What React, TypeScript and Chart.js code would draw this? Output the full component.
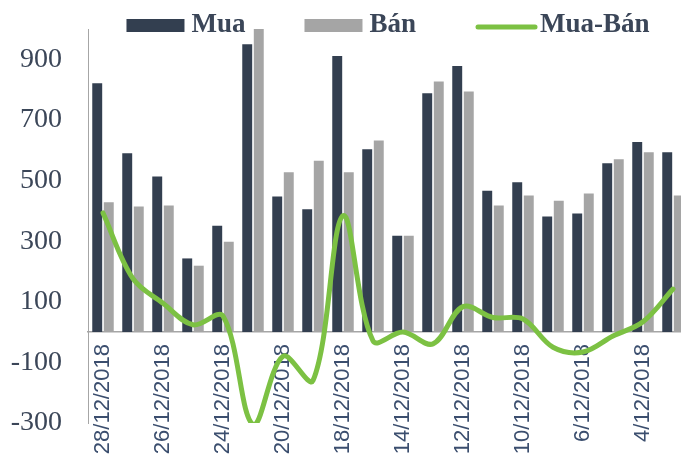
import React, { useEffect, useRef } from "react";
import { Chart, registerables } from "chart.js";

Chart.register(...registerables);

// Trading days, newest first
const DATES = [
  "28/12/2018", "27/12/2018", "26/12/2018", "25/12/2018", "24/12/2018",
  "21/12/2018", "20/12/2018", "19/12/2018", "18/12/2018", "17/12/2018",
  "14/12/2018", "13/12/2018", "12/12/2018", "11/12/2018", "10/12/2018",
  "7/12/2018", "6/12/2018", "5/12/2018", "4/12/2018", "3/12/2018",
];

const MUA = [821, 590, 513, 243, 351, 950, 447, 405, 911, 603, 318, 788, 878, 466, 494, 381, 391, 557, 627, 593];
const BAN = [428, 414, 418, 219, 298, 1255, 527, 565, 527, 632, 318, 827, 794, 418, 451, 433, 457, 570, 593, 451];
const MUA_BAN = [393, 176, 95, 24, 53, -305, -80, -160, 384, -29, 0, -39, 84, 48, 43, -50, -66, -13, 34, 142];

const Y_TICKS = [-300, -100, 100, 300, 500, 700, 900];
const Y_MIN = -300;
const Y_MAX = 1000;

const NAVY = "#333F50";
const GREY = "#A5A5A5";
const GREEN = "#7CC143";
const TEXT = "#3B4658";
const AXIS = "#A6A6A6";

// Legend drawn across the top of the plot, overlapping its upper edge
const topLegend = {
  id: "topLegend",
  afterDraw(chart: any) {
    const { ctx, chartArea } = chart;
    const BOX_W = 58;
    const BOX_H = 13;
    const GAP = 7;
    const ITEM_GAP = 59;
    const baseline = 32;
    const midY = 25.5;
    ctx.save();
    ctx.font = 'bold 27px "Liberation Serif", "Times New Roman", serif';
    const items = chart.data.datasets.map((ds: any) => ({
      label: ds.label as string,
      isLine: ds.type === "line",
      color: ds.type === "line" ? ds.borderColor : ds.backgroundColor,
    }));
    const widths = items.map((it: any) => BOX_W + GAP + ctx.measureText(it.label).width);
    const total = widths.reduce((a: number, b: number) => a + b, 0) + ITEM_GAP * (items.length - 1);
    let x = (chartArea.left + chartArea.right) / 2 - total / 2;
    items.forEach((it: any, i: number) => {
      if (it.isLine) {
        ctx.strokeStyle = it.color;
        ctx.lineWidth = 5;
        ctx.lineCap = "round";
        ctx.beginPath();
        ctx.moveTo(x + 3, midY + 1.5);
        ctx.lineTo(x + BOX_W + 2, midY + 1.5);
        ctx.stroke();
      } else {
        ctx.fillStyle = it.color;
        ctx.fillRect(x, midY - BOX_H / 2, BOX_W, BOX_H);
      }
      ctx.fillStyle = TEXT;
      ctx.textAlign = "left";
      ctx.textBaseline = "alphabetic";
      ctx.fillText(it.label, x + BOX_W + GAP, baseline);
      x += widths[i] + ITEM_GAP;
    });
    ctx.restore();
  },
};

export default function App() {
  const canvasRef = useRef<HTMLCanvasElement | null>(null);

  useEffect(() => {
    if (!canvasRef.current) return;
    const chart = new Chart(canvasRef.current, {
      data: {
        labels: DATES,
        datasets: [
          {
            type: "bar",
            label: "Mua",
            data: MUA,
            backgroundColor: NAVY,
            categoryPercentage: 0.77,
            barPercentage: 0.86,
            clip: 0,
            order: 0,
          },
          {
            type: "bar",
            label: "Bán",
            data: BAN,
            backgroundColor: GREY,
            categoryPercentage: 0.77,
            barPercentage: 0.86,
            clip: 0,
            order: 0,
          },
          {
            type: "line",
            label: "Mua-Bán",
            data: MUA_BAN,
            borderColor: GREEN,
            backgroundColor: GREEN,
            borderWidth: 5,
            pointRadius: 0,
            tension: 0.35,
            borderCapStyle: "round",
            borderJoinStyle: "round",
            clip: 0,
            order: -1,
          },
        ],
      } as any,
      options: {
        animation: false,
        responsive: true,
        maintainAspectRatio: false,
        layout: { padding: { left: 10.7, right: 12, top: 29, bottom: 35 } },
        plugins: {
          legend: { display: false },
          tooltip: { enabled: false },
        },
        scales: {
          x: {
            type: "category",
            position: { y: 0 } as any,
            afterFit: (scale: any) => {
              scale.height = 0;
              scale.paddingLeft = 0;
              scale.paddingRight = 0;
            },
            grid: { display: false, drawTicks: false },
            border: { display: true, color: AXIS, width: 1.5 },
            ticks: {
              autoSkip: false,
              minRotation: 90,
              maxRotation: 90,
              padding: 12,
              color: "#3B4E6E",
              font: { family: '"Liberation Sans", Arial, sans-serif', size: 22 },
              callback: (_v: any, i: number) => (i % 2 === 0 ? DATES[i] : ""),
            },
          },
          y: {
            position: "left",
            min: Y_MIN,
            max: Y_MAX,
            afterBuildTicks: (scale: any) => {
              scale.ticks = Y_TICKS.map((v) => ({ value: v }));
            },
            afterFit: (scale: any) => {
              scale.width = 77.3;
              scale.paddingTop = 0;
              scale.paddingBottom = 0;
            },
            grid: { display: false, drawTicks: false },
            border: { display: true, color: AXIS, width: 1 },
            ticks: {
              padding: 26,
              color: TEXT,
              font: { family: '"Liberation Serif", "Times New Roman", serif', size: 28 },
              callback: (v: any) => String(v),
            },
          },
        },
      },
      plugins: [topLegend],
    });
    return () => chart.destroy();
  }, []);

  return (
    <div
      style={{
        position: "fixed",
        left: 0,
        top: 0,
        width: 681,
        height: 458,
        overflow: "hidden",
        background: "#ffffff",
      }}
    >
      <div style={{ position: "relative", width: 700, height: 458 }}>
        <canvas ref={canvasRef} />
      </div>
    </div>
  );
}
